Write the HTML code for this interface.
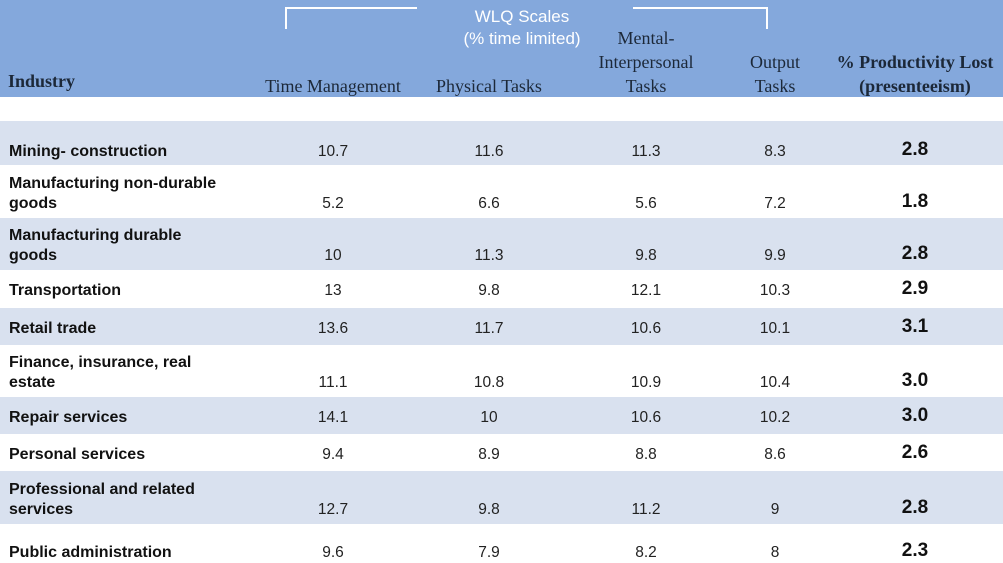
<!DOCTYPE html>
<html><head><meta charset="utf-8"><style>
html,body{margin:0;padding:0;background:#fff;width:1003px;height:563px;overflow:hidden}
svg{display:block}
.hdr{font-family:"Liberation Serif",serif;font-size:18px;fill:#1c2838}
.lab{font-family:"Liberation Sans",sans-serif;font-size:16px;font-weight:bold;fill:#111}
.val{font-family:"Liberation Sans",sans-serif;font-size:15.5px;fill:#222}
.pl{font-family:"Liberation Sans",sans-serif;font-size:19px;font-weight:bold;fill:#111}
</style></head><body>
<svg id="tbl" width="1003" height="563" xmlns="http://www.w3.org/2000/svg">
<rect x="0" y="0" width="1003" height="97" fill="#84a8dc"/>
<polyline points="286,29 286,8 417,8" fill="none" stroke="#fff" stroke-width="2"/>
<polyline points="633,8 767,8 767,29" fill="none" stroke="#fff" stroke-width="2"/>
<text x="522" y="22" text-anchor="middle" font-family="Liberation Sans, sans-serif" font-size="17" fill="#fff">WLQ Scales</text>
<text x="522" y="44" text-anchor="middle" font-family="Liberation Sans, sans-serif" font-size="17" fill="#fff">(% time limited)</text>
<text x="8" y="87" font-family="Liberation Serif, serif" font-size="18" font-weight="bold" fill="#1c2838">Industry</text>
<text class="hdr" x="333" y="92" text-anchor="middle">Time Management</text>
<text class="hdr" x="489" y="92" text-anchor="middle">Physical Tasks</text>
<text class="hdr" x="646" y="44" text-anchor="middle">Mental-</text>
<text class="hdr" x="646" y="68" text-anchor="middle">Interpersonal</text>
<text class="hdr" x="646" y="92" text-anchor="middle">Tasks</text>
<text class="hdr" x="775" y="68" text-anchor="middle">Output</text>
<text class="hdr" x="775" y="92" text-anchor="middle">Tasks</text>
<text class="hdr" x="915" y="68" text-anchor="middle" font-weight="bold">% Productivity Lost</text>
<text class="hdr" x="915" y="92" text-anchor="middle" font-weight="bold">(presenteeism)</text>
<rect x="0" y="97" width="1003" height="24" fill="#fff"/>
<g id="rows"></g>
</svg>
<script>
const industries=[["Mining- construction"],["Manufacturing non-durable","goods"],["Manufacturing durable","goods"],["Transportation"],["Retail trade"],["Finance, insurance, real","estate"],["Repair services"],["Personal services"],["Professional and related","services"],["Public administration"]];
const timeMgmt=["10.7","5.2","10","13","13.6","11.1","14.1","9.4","12.7","9.6"];
const physical=["11.6","6.6","11.3","9.8","11.7","10.8","10","8.9","9.8","7.9"];
const mental=["11.3","5.6","9.8","12.1","10.6","10.9","10.6","8.8","11.2","8.2"];
const output=["8.3","7.2","9.9","10.3","10.1","10.4","10.2","8.6","9","8"];
const prodLost=["2.8","1.8","2.8","2.9","3.1","3.0","3.0","2.6","2.8","2.3"];
const rowTops=[121,165,218,270,308,345,397,434,471,524,563];
const NS="http://www.w3.org/2000/svg";
const g=document.getElementById('rows');
function t(cls,x,y,s,anchor){const e=document.createElementNS(NS,'text');e.setAttribute('class',cls);e.setAttribute('x',x);e.setAttribute('y',y);e.setAttribute('text-anchor',anchor||'middle');e.textContent=s;g.appendChild(e);return e;}
industries.forEach((lab,i)=>{
  const top=rowTops[i],bot=rowTops[i+1];
  const r=document.createElementNS(NS,'rect');
  r.setAttribute('x',0);r.setAttribute('y',top);r.setAttribute('width',1003);r.setAttribute('height',bot-top);
  r.setAttribute('fill',i%2===0?'#d9e1ef':'#ffffff');
  
  
  g.appendChild(r);
  let vy=(i===9)?557:(lab.length===2?bot-10:Math.round((top+bot)/2)+6);
  if(i===0)vy=156;
  lab.forEach((l,k)=>{const e=t('lab',9,vy-(lab.length-1-k)*20,l,'start');
    
    });
  [[timeMgmt,333,'time-management-value'],[physical,489,'physical-tasks-value'],[mental,646,'mental-tasks-value'],[output,775,'output-tasks-value']].forEach(([arr,x,n])=>{
    const e=t('val',x,vy,arr[i]);
    
    });
  const p=t('pl',915,vy-1,prodLost[i]);
  
  
});
</script>
</body></html>
